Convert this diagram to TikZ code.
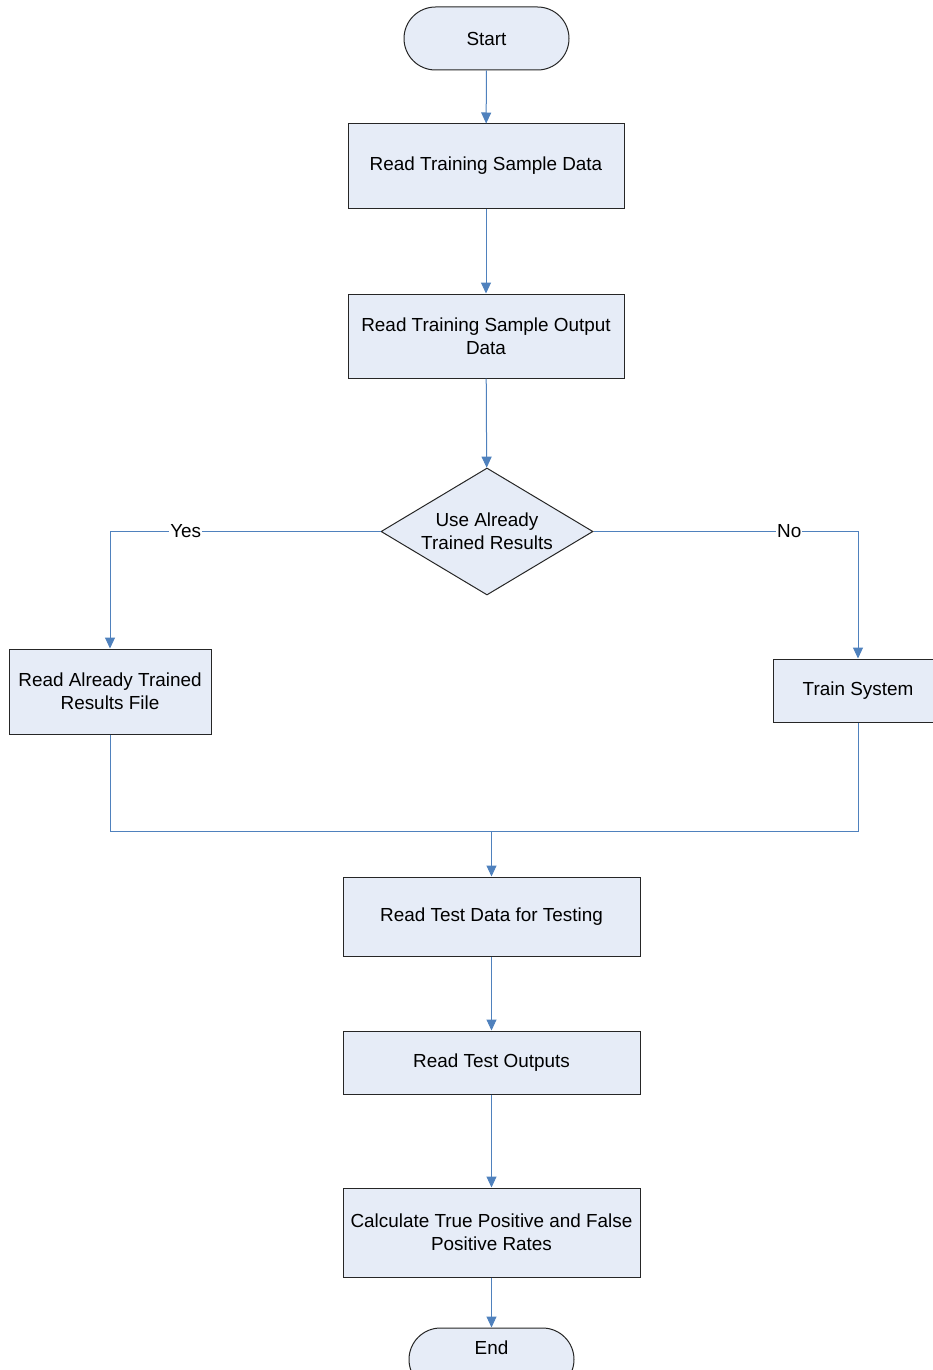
\documentclass[tikz,border=0pt]{standalone}
\usepackage{fontspec}
\setmainfont{Liberation Sans}
\usetikzlibrary{arrows.meta,positioning,shapes.geometric,shapes.misc}
\definecolor{boxfill}{RGB}{230,236,247}
\definecolor{flowblue}{RGB}{79,129,189}

\begin{document}
\begin{tikzpicture}[
  x=1pt, y=-1pt,
  font=\fontsize{18.9}{23}\selectfont,
  box/.style={draw=black!85, fill=boxfill, align=center, inner sep=2pt, line width=1pt, minimum width=276pt, minimum height=84pt},
  terminal/.style={box, rounded rectangle, minimum width=169pt, minimum height=63pt},
  decision/.style={box, diamond, aspect=1.67, inner sep=0pt, minimum width=212pt, minimum height=127pt},
  arrow/.style={-{Triangle[length=11pt,width=10pt]}, flowblue, line width=1pt},
  link/.style={flowblue, line width=1pt},
  answer/.style={fill=white, text=black, inner sep=1pt}
]
  \useasboundingbox (0,0) rectangle (933,1370);

  \node[terminal] (start) at (486.5,38.5) {Start};
  \node[box, yshift=-2pt] (readtrain) at (486,164) {Read Training Sample Data};
  \node[box] (readout) at (486,336) {Read Training Sample Output\\Data};
  \node[decision] (usetrained) at (487,531.5) {Use Already\\Trained Results};
  \node[box, minimum width=202pt, minimum height=85pt] (readfile) at (110,691.5) {Read Already Trained\\Results File};
  \node[box, minimum width=170pt, minimum height=63pt] (train) at (858,690.5) {Train System};
  \node[box, minimum width=297pt, minimum height=79pt] (testdata) at (491.5,916.5) {Read Test Data for Testing};
  \node[box, minimum width=297pt, minimum height=63pt] (testout) at (491.5,1062.5) {Read Test Outputs};
  \node[box, minimum width=297pt, minimum height=89pt] (rates) at (491.5,1232.5) {Calculate True Positive and False\\Positive Rates};
  \node[terminal, label={[yshift=11.5pt]center:End}] (end) at (491.5,1359.5) {};
  \coordinate (join) at (491.5,831);

  \draw[arrow] (start) -- (readtrain);
  \draw[arrow] (readtrain) -- (readout);
  \draw[arrow] (readout) -- (usetrained);
  \draw[arrow] (usetrained.west) -| node[answer, pos=0.36] {Yes} (readfile.north);
  \draw[arrow] (usetrained.east) -| node[answer, pos=0.37] {No} (train.north);
  \draw[link] (readfile.south) |- (join);
  \draw[link] (train.south) |- (join);
  \draw[arrow] (join) -- (testdata);
  \draw[arrow] (testdata) -- (testout);
  \draw[arrow] (testout) -- (rates);
  \draw[arrow] (rates) -- (end);
\end{tikzpicture}
\end{document}
